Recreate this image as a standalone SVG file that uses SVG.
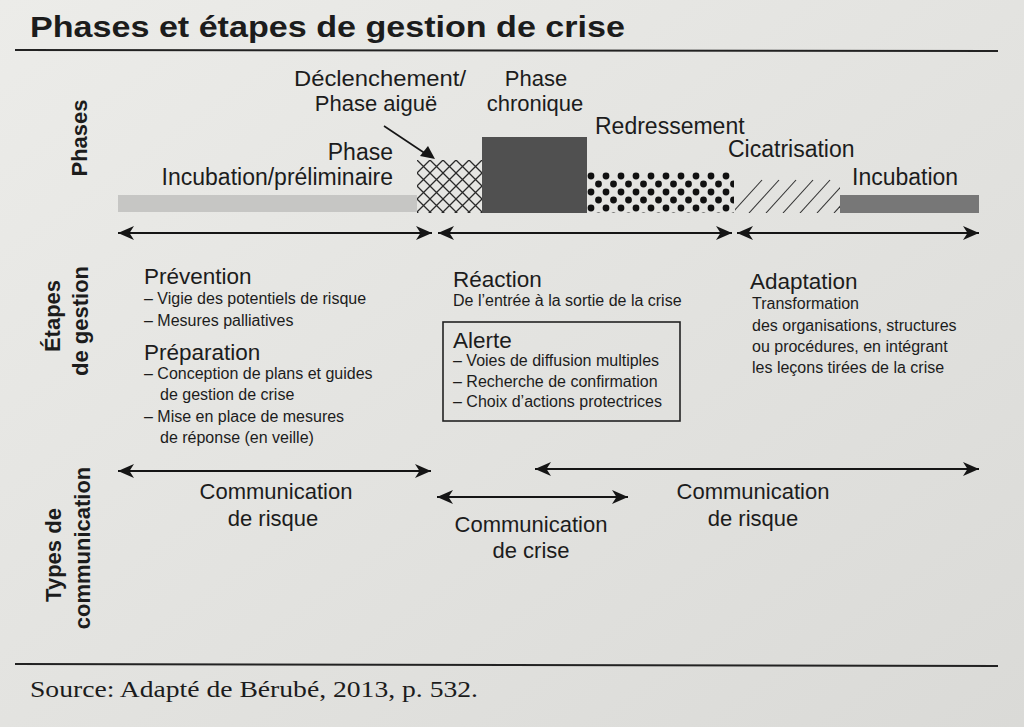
<svg xmlns="http://www.w3.org/2000/svg" width="1024" height="727" viewBox="0 0 1024 727">
<defs>
<linearGradient id="bg" x1="0" y1="0" x2="1" y2="1">
<stop offset="0" stop-color="#ecece9"/>
<stop offset="1" stop-color="#dadad7"/>
</linearGradient>
<pattern id="xhatch" patternUnits="userSpaceOnUse" x="417" y="160" width="13" height="13">
<path d="M0,0 L13,13 M13,0 L0,13" stroke="#2a2a2a" stroke-width="1.3" fill="none"/>
</pattern>
<pattern id="dots" patternUnits="userSpaceOnUse" x="587" y="172" width="15" height="16">
<circle cx="4" cy="4" r="3.4" fill="#111"/>
<circle cx="11.5" cy="12" r="3.4" fill="#111"/>
</pattern>
<clipPath id="hclip"><rect x="735" y="178" width="105" height="35"/></clipPath>
<marker id="ah" markerUnits="userSpaceOnUse" markerWidth="18" markerHeight="16" refX="16" refY="7" orient="auto-start-reverse" viewBox="0 0 18 14">
<path d="M0,0 L16,7 L0,14 L4.5,7 Z" fill="#151515"/>
</marker>
</defs>
<style>
text{font-family:"Liberation Sans",Arial,sans-serif;fill:#1c1c1c}
.lab{font-size:23px}
.lab2{font-size:22px}
.hd{font-size:22.5px}
.bd{font-size:16px}
.cm{font-size:22px}
.side{font-size:22px;font-weight:bold}
.arr{stroke:#151515;stroke-width:2.2;fill:none;marker-start:url(#ah);marker-end:url(#ah)}
.rule{stroke:#222;stroke-width:2;fill:none}
</style>
<rect x="0" y="0" width="1024" height="727" fill="url(#bg)"/>

<g id="title">
<text x="30" y="37" style="font-size:29px;font-weight:bold" textLength="595" lengthAdjust="spacingAndGlyphs">Phases et étapes de gestion de crise</text>
<line class="rule" x1="15" y1="50" x2="998" y2="51"/>
</g>

<g id="side-labels">
<text class="side" transform="translate(87,138) rotate(-90)" text-anchor="middle">Phases</text>
<text class="side" transform="translate(60,316) rotate(-90)" text-anchor="middle">Étapes</text>
<text class="side" transform="translate(88,321) rotate(-90)" text-anchor="middle">de gestion</text>
<text class="side" transform="translate(61,555) rotate(-90)" text-anchor="middle">Types de</text>
<text class="side" transform="translate(90,548) rotate(-90)" text-anchor="middle">communication</text>
</g>

<g id="phase-incubation-preliminaire">
<rect x="118" y="195" width="299" height="17" fill="#c6c6c4"/>
<text class="lab" x="393" y="160" text-anchor="end">Phase</text>
<text class="lab" x="393" y="185" text-anchor="end">Incubation/préliminaire</text>
</g>

<g id="phase-declenchement">
<rect x="417" y="160" width="65" height="53" fill="url(#xhatch)"/>
<text class="lab2" x="380" y="86" text-anchor="middle" textLength="172" lengthAdjust="spacingAndGlyphs">Déclenchement/</text>
<text class="lab2" x="376" y="111" text-anchor="middle">Phase aiguë</text>
<line x1="384" y1="126" x2="426" y2="154" stroke="#151515" stroke-width="1.6"/>
<path d="M435,159 L420,156 L428,146 Z" fill="#151515"/>
</g>

<g id="phase-chronique">
<rect x="482" y="137" width="105" height="76" fill="#505050"/>
<text class="lab2" x="536" y="86" text-anchor="middle">Phase</text>
<text class="lab2" x="535" y="111" text-anchor="middle">chronique</text>
</g>

<g id="phase-redressement">
<rect x="587" y="172" width="147" height="41" fill="url(#dots)"/>
<text class="lab" x="595" y="134">Redressement</text>
</g>

<g id="phase-cicatrisation">
<g clip-path="url(#hclip)" stroke="#333" stroke-width="1.1">
<line x1="732" y1="213" x2="762" y2="180"/>
<line x1="749" y1="213" x2="779" y2="180"/>
<line x1="766" y1="213" x2="796" y2="180"/>
<line x1="783" y1="213" x2="813" y2="180"/>
<line x1="800" y1="213" x2="830" y2="180"/>
<line x1="817" y1="213" x2="847" y2="180"/>
<line x1="834" y1="213" x2="864" y2="180"/>
</g>
<text class="lab" x="728" y="157">Cicatrisation</text>
</g>

<g id="phase-incubation">
<rect x="840" y="195" width="139" height="18" fill="#777"/>
<text class="lab" x="852" y="185">Incubation</text>
</g>

<g id="connectors">
<line class="arr" x1="118" y1="233" x2="432" y2="233"/>
<line class="arr" x1="438" y1="233" x2="732" y2="233"/>
<line class="arr" x1="737" y1="233" x2="979" y2="233"/>
<line class="arr" x1="118" y1="471" x2="431" y2="471"/>
<line class="arr" x1="437" y1="497" x2="628" y2="497"/>
<line class="arr" x1="535" y1="469" x2="979" y2="469"/>
</g>

<g id="etape-prevention">
<text class="hd" x="144" y="284">Prévention</text>
<text class="bd" x="144" y="304">– Vigie des potentiels de risque</text>
<text class="bd" x="144" y="326">– Mesures palliatives</text>
</g>

<g id="etape-preparation">
<text class="hd" x="144" y="360">Préparation</text>
<text class="bd" x="144" y="379">– Conception de plans et guides</text>
<text class="bd" x="160" y="400">de gestion de crise</text>
<text class="bd" x="144" y="422">– Mise en place de mesures</text>
<text class="bd" x="160" y="443">de réponse (en veille)</text>
</g>

<g id="etape-reaction">
<text class="hd" x="453" y="287">Réaction</text>
<text class="bd" x="453" y="306">De l’entrée à la sortie de la crise</text>
</g>

<g id="etape-alerte">
<rect x="443" y="322" width="237" height="99" fill="none" stroke="#222" stroke-width="1.6"/>
<text class="hd" x="453" y="348">Alerte</text>
<text class="bd" x="453" y="366">– Voies de diffusion multiples</text>
<text class="bd" x="453" y="387">– Recherche de confirmation</text>
<text class="bd" x="453" y="407">– Choix d’actions protectrices</text>
</g>

<g id="etape-adaptation">
<text class="hd" x="750" y="289">Adaptation</text>
<text class="bd" x="752" y="309">Transformation</text>
<text class="bd" x="752" y="331">des organisations, structures</text>
<text class="bd" x="752" y="352">ou procédures, en intégrant</text>
<text class="bd" x="752" y="373">les leçons tirées de la crise</text>
</g>

<g id="comm-risque-1">
<text class="cm" x="276" y="499" text-anchor="middle">Communication</text>
<text class="cm" x="273" y="526" text-anchor="middle">de risque</text>
</g>

<g id="comm-crise">
<text class="cm" x="531" y="532" text-anchor="middle">Communication</text>
<text class="cm" x="531" y="558" text-anchor="middle">de crise</text>
</g>

<g id="comm-risque-2">
<text class="cm" x="753" y="499" text-anchor="middle">Communication</text>
<text class="cm" x="753" y="526" text-anchor="middle">de risque</text>
</g>

<g id="source">
<line class="rule" x1="15" y1="664" x2="998" y2="666"/>
<text x="30" y="697" style="font-family:'Liberation Serif',serif;font-size:24px" textLength="448" lengthAdjust="spacingAndGlyphs">Source: Adapté de Bérubé, 2013, p. 532.</text>
</g>
</svg>
